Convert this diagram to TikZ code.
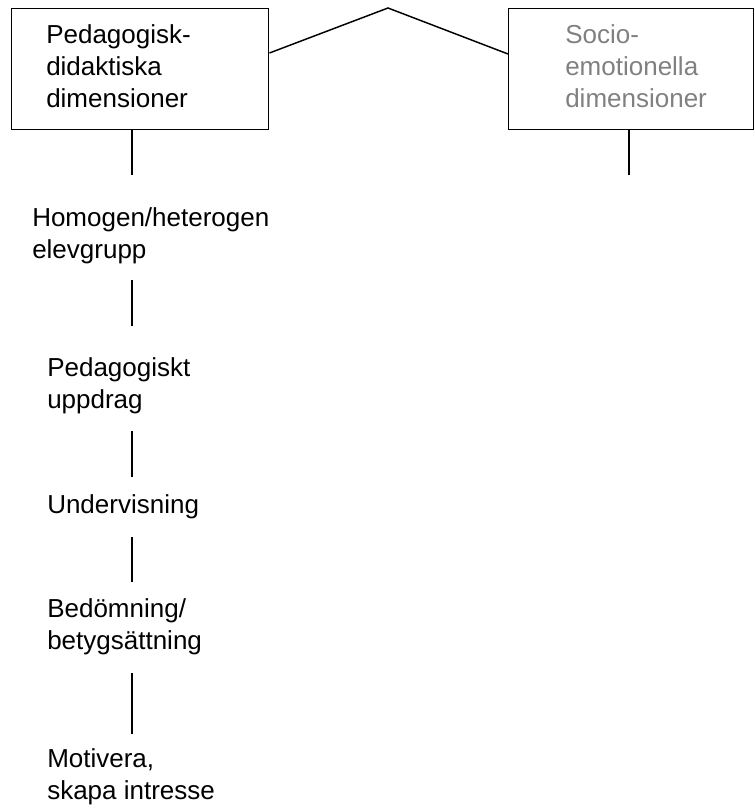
\documentclass[tikz,border=0pt]{standalone}
\usepackage{fontspec}
\setmainfont{Liberation Sans}
\definecolor{soft}{RGB}{128,128,128}
\begin{document}
\begin{tikzpicture}[x=0.75pt,y=-0.75pt,
  box/.style={draw, line width=1.1pt, inner sep=0pt, anchor=north west},
  txt/.style={inner sep=0pt, anchor=base west, align=left, font=\fontsize{19.5}{24}\selectfont},
  conn/.style={line width=1.1pt}]
\useasboundingbox (0,0) rectangle (755,809);
% boxes
\node[box, minimum width=257*0.75pt, minimum height=121*0.75pt] (b1) at (11,8) {};
\node[box, minimum width=245*0.75pt, minimum height=121*0.75pt] (b2) at (508,8) {};
\node[txt] (t1) at (46,108) {Pedagogisk-\\didaktiska\\dimensioner};
\node[txt, text=soft] (t2) at (565,108) {Socio-\\emotionella\\dimensioner};
% roof
\coordinate (apex) at (388,8);
\draw[conn] (b1.east |- 0,53) -- (apex) -- (b2.west |- 0,54);
% stubs under boxes
\coordinate (s1) at (132,175);
\coordinate (s2) at (629,175);
\draw[conn] (b1.south -| s1) -- (s1);
\draw[conn] (b2.south -| s2) -- (s2);
% column
\node[txt] (n1) at (32,258) {Homogen/heterogen\\elevgrupp};
\node[txt] (n2) at (47,408) {Pedagogiskt\\uppdrag};
\node[txt] (n3) at (47,513) {Undervisning};
\node[txt] (n4) at (47,649) {Bedömning/\\betygsättning};
\node[txt] (n5) at (47,799) {Motivera,\\skapa intresse};
\coordinate (a1) at (132,280); \coordinate (e1) at (132,326);
\coordinate (a2) at (132,431); \coordinate (e2) at (132,477);
\coordinate (a3) at (132,537); \coordinate (e3) at (132,582);
\coordinate (a4) at (132,673); \coordinate (e4) at (132,734);
\draw[conn] (a1) -- (e1);
\draw[conn] (a2) -- (e2);
\draw[conn] (a3) -- (e3);
\draw[conn] (a4) -- (e4);
\end{tikzpicture}
\end{document}
